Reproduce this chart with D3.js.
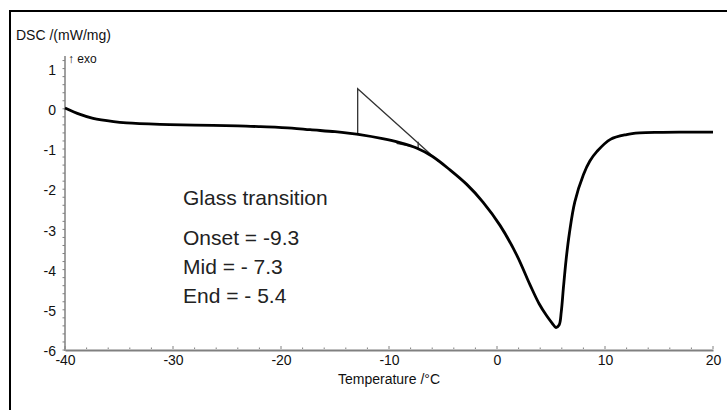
<!DOCTYPE html>
<html>
<head>
<meta charset="utf-8">
<script src="https://cdn.jsdelivr.net/npm/d3@7"></script>
<style>
  body { margin: 0; background: #fff; }
  text { font-family: "Liberation Sans", Arial, sans-serif; }
</style>
</head>
<body>
<div id="chart"></div>
<script>
// DSC curve
var temps = [-40, -38.6, -37.4, -35.5, -34.3, -31.2, -28, -24, -21.9, -19, -17.3, -15, -13.6, -12.7, -10.6,
  -9, -7.4, -6, -4.35, -2.8, -1.3, 0.28, 1.85, 3.06, 3.9, 4.6, 5.1, 5.46, 5.75, 5.95, 6.15, 6.4, 6.7,
  7.2, 8, 8.6, 9.26, 10.5, 12, 13.2, 15, 17, 20];
var dsc = [0.02, -0.14, -0.24, -0.32, -0.35, -0.385, -0.405, -0.425, -0.445, -0.48, -0.52, -0.57, -0.61, -0.64, -0.74,
  -0.84, -0.98, -1.18, -1.52, -1.88, -2.32, -2.9, -3.65, -4.38, -4.85, -5.15, -5.33, -5.44, -5.38, -5.05, -4.45, -3.75, -3.1,
  -2.32, -1.64, -1.3, -1.06, -0.76, -0.64, -0.6, -0.585, -0.58, -0.58];

// tangent construction lines (temperature, value)
var onsetLine = [[-12.9, -0.62], [-12.9, 0.5], [-5.4, -1.31]];
var midLine = [[-9.3, -0.86], [-7.3, -0.97], [-7.3, -0.82]];

var xTicks = [-40, -30, -20, -10, 0, 10, 20];
var yTicks = [1, 0, -1, -2, -3, -4, -5, -6];
var notes = ["Onset = -9.3", "Mid = - 7.3", "End = - 5.4"];

var svgWidth = 727;
var svgHeight = 410;

var svg = d3.select("#chart")
  .append("svg")
  .attr("width", svgWidth)
  .attr("height", svgHeight);

// outer frame (right and bottom edges run off the picture)
svg.append("rect")
  .attr("x", 10)
  .attr("y", 11)
  .attr("width", 740)
  .attr("height", 420)
  .attr("fill", "none")
  .attr("stroke", "#000")
  .attr("stroke-width", 2);

var xScale = d3.scaleLinear().domain([-40, 20]).range([65, 713]);
var yScale = d3.scaleLinear().domain([-6, 1]).range([350, 68.6]);

// axes
var axisColor = "#808080";
var plain = d => String(d);

var bottomAxis = d3.axisBottom(xScale).tickValues(xTicks).tickFormat(plain).tickSize(0).tickPadding(5);
var xAxis = svg.append("g")
  .attr("transform", "translate(0,350)")
  .call(bottomAxis);
xAxis.select(".domain").attr("stroke", axisColor).attr("stroke-width", 2);
xAxis.selectAll("text").attr("font-size", 14).attr("fill", "#111");

svg.append("g").selectAll("line")
  .data(d3.range(-40, 20.01, 2))
  .enter()
  .append("line")
  .attr("x1", d => xScale(d))
  .attr("x2", d => xScale(d))
  .attr("y1", 349)
  .attr("y2", d => d % 10 === 0 ? 346 : 347.5)
  .attr("stroke", axisColor)
  .attr("stroke-width", 1);

var leftAxis = d3.axisLeft(yScale).tickValues(yTicks).tickFormat(plain).tickSize(0).tickPadding(9);
var yAxis = svg.append("g")
  .attr("transform", "translate(65,0)")
  .call(leftAxis);
yAxis.select(".domain").remove();
yAxis.selectAll("text").attr("font-size", 14).attr("fill", "#111").attr("dy", "0.4em");

svg.append("line")
  .attr("x1", 65).attr("x2", 65)
  .attr("y1", 56).attr("y2", 351)
  .attr("stroke", axisColor)
  .attr("stroke-width", 1.5);

svg.append("g").selectAll("line")
  .data(d3.range(-6, 1.31, 0.2))
  .enter()
  .append("line")
  .attr("x1", 62.5)
  .attr("x2", 65)
  .attr("y1", d => yScale(d))
  .attr("y2", d => yScale(d))
  .attr("stroke", axisColor)
  .attr("stroke-width", 1);

// axis titles
svg.append("text")
  .attr("x", 16)
  .attr("y", 40)
  .attr("font-size", 14)
  .attr("fill", "#111")
  .text("DSC /(mW/mg)");

svg.append("text")
  .attr("x", 68)
  .attr("y", 63)
  .attr("font-size", 12)
  .attr("fill", "#111")
  .text("\u2191 exo");

svg.append("text")
  .attr("x", 389)
  .attr("y", 384)
  .attr("text-anchor", "middle")
  .attr("font-size", 14)
  .attr("fill", "#111")
  .text("Temperature /\u00b0C");

// construction lines
var line = d3.line()
  .x(d => xScale(d[0]))
  .y(d => yScale(d[1]));

svg.append("path")
  .attr("d", line(onsetLine))
  .attr("fill", "none")
  .attr("stroke", "#333")
  .attr("stroke-width", 1.3);

svg.append("path")
  .attr("d", line(midLine))
  .attr("fill", "none")
  .attr("stroke", "#333")
  .attr("stroke-width", 1.3);

// the curve
var curve = d3.line()
  .x((d, i) => xScale(temps[i]))
  .y(d => yScale(d))
  .curve(d3.curveCatmullRom.alpha(0.5));

svg.append("path")
  .attr("d", curve(dsc))
  .attr("fill", "none")
  .attr("stroke", "#000")
  .attr("stroke-width", 2.8)
  .attr("stroke-linejoin", "round");

// annotation
svg.append("text")
  .attr("x", 183)
  .attr("y", 205)
  .attr("font-family", "Lato, sans-serif")
  .attr("font-size", 21)
  .attr("fill", "#222")
  .text("Glass transition");

svg.append("g").selectAll("text")
  .data(notes)
  .enter()
  .append("text")
  .attr("x", 183)
  .attr("y", (d, i) => 245 + i * 29)
  .attr("font-family", "Lato, sans-serif")
  .attr("font-size", 21)
  .attr("fill", "#222")
  .text(d => d);
</script>
</body>
</html>
